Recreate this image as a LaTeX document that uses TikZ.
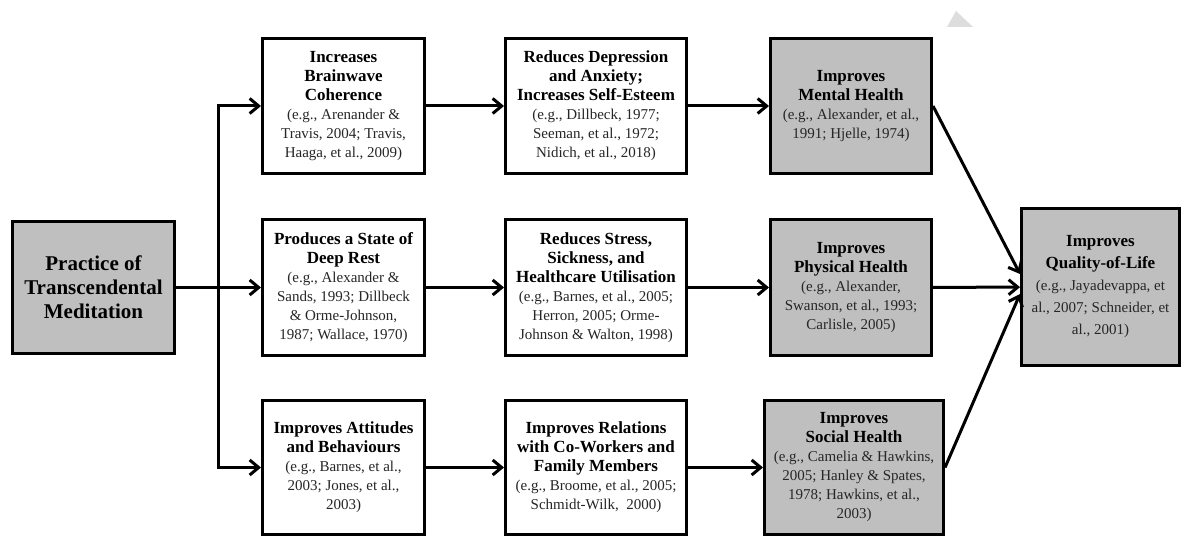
\documentclass[tikz,border=0pt]{standalone}
\usepackage{fontspec}
\setmainfont{Liberation Serif}
\usetikzlibrary{arrows.meta}

\definecolor{boxgray}{RGB}{191,191,191}
\definecolor{citegray}{RGB}{38,38,38}
\definecolor{markgray}{RGB}{221,221,221}

% one line of references under a box title
\newcommand{\refs}[1]{{\mdseries\fontsize{15}{19}\selectfont\color{citegray}#1}}

\tikzset{
  box/.style={draw, line width=3pt, align=center, inner sep=1pt,
    font=\bfseries\fontsize{17}{19}\selectfont},
  plainbox/.style={box, fill=white},
  shadedbox/.style={box, fill=boxgray},
  arr/.style={line width=3pt, line join=miter, -{Straight Barb[length=9pt,width=15pt]}}
}

\begin{document}
\begin{tikzpicture}[x=1pt,y=-1pt]
\useasboundingbox (0,0) rectangle (1182,537);

%watermark corner
\fill[markgray] (947,27) -- (956,11) -- (973,27) -- cycle;

% Start
\node[shadedbox, minimum width=162, minimum height=132, font=\bfseries\fontsize{21}{24}\selectfont] (tm) at (93.5,287.5) {Practice of\\Transcendental\\Meditation};

% First column
\node[plainbox, minimum width=162, minimum height=135] (brain) at (343.5,106) {Increases\\Brainwave\\Coherence\\\refs{(e.g., Arenander \&}\\\refs{Travis, 2004; Travis,}\\\refs{Haaga, et al., 2009)}};
\node[plainbox, minimum width=162, minimum height=135] (rest) at (343.5,287.5) {Produces a State of\\Deep Rest\\\refs{(e.g., Alexander \&}\\\refs{Sands, 1993; Dillbeck}\\\refs{\& Orme-Johnson,}\\\refs{1987; Wallace, 1970)}};
\node[plainbox, minimum width=162, minimum height=134] (attit) at (343.5,467.5) {Improves Attitudes\\and Behaviours\\\refs{(e.g., Barnes, et al.,}\\\refs{2003; Jones, et al.,}\\\refs{2003)}};

% Second column
\node[plainbox, minimum width=181, minimum height=135] (depr) at (596,106) {Reduces Depression\\and Anxiety;\\Increases Self-Esteem\\\refs{(e.g., Dillbeck, 1977;}\\\refs{Seeman, et al., 1972;}\\\refs{Nidich, et al., 2018)}};
\node[plainbox, minimum width=181, minimum height=135] (stress) at (596,287.5) {Reduces Stress,\\Sickness, and\\Healthcare Utilisation\\\refs{(e.g., Barnes, et al., 2005;}\\\refs{Herron, 2005; Orme-}\\\refs{Johnson \& Walton, 1998)}};
\node[plainbox, minimum width=181, minimum height=134] (relat) at (596,467.5) {Improves Relations\\with Co-Workers and\\Family Members\\\refs{(e.g., Broome, et al., 2005;}\\\refs{Schmidt-Wilk,\ \ 2000)}};

% Third column
\node[shadedbox, minimum width=161, minimum height=135] (mental) at (851,106) {Improves\\Mental Health\\\refs{(e.g., Alexander, et al.,}\\\refs{1991; Hjelle, 1974)}};
\node[shadedbox, minimum width=161, minimum height=135] (physical) at (851,287.5) {Improves\\Physical Health\\\refs{(e.g., Alexander,}\\\refs{Swanson, et al., 1993;}\\\refs{Carlisle, 2005)}};
\node[shadedbox, minimum width=179, minimum height=134] (social) at (854,467.5) {Improves\\Social Health\\\refs{(e.g., Camelia \& Hawkins,}\\\refs{2005; Hanley \& Spates,}\\\refs{1978; Hawkins, et al.,}\\\refs{2003)}};

% End
\node[shadedbox, minimum width=158, minimum height=157, font=\bfseries\fontsize{17}{22}\selectfont] (quality) at (1100.5,287) {Improves\\Quality-of-Life\\\refs{(e.g., Jayadevappa, et}\\\refs{al., 2007; Schneider, et}\\\refs{al., 2001)}};

% Connectors
\coordinate (split) at (218,287.5);
\draw[arr] (tm) -- (rest);
\draw[arr] (split) |- (brain);
\draw[arr] (split) |- (attit);
\draw[arr] (brain) -- (depr);
\draw[arr] (rest) -- (stress);
\draw[arr] (attit) -- (relat);
\draw[arr] (depr) -- (mental);
\draw[arr] (stress) -- (physical);
\draw[arr] (relat) -- (social);
\draw[arr] (mental.east) -- ([yshift=13pt]quality.west);
\draw[arr] (physical) -- (quality);
\draw[arr] (social.east) -- ([yshift=-7pt]quality.west);

\end{tikzpicture}
\end{document}
